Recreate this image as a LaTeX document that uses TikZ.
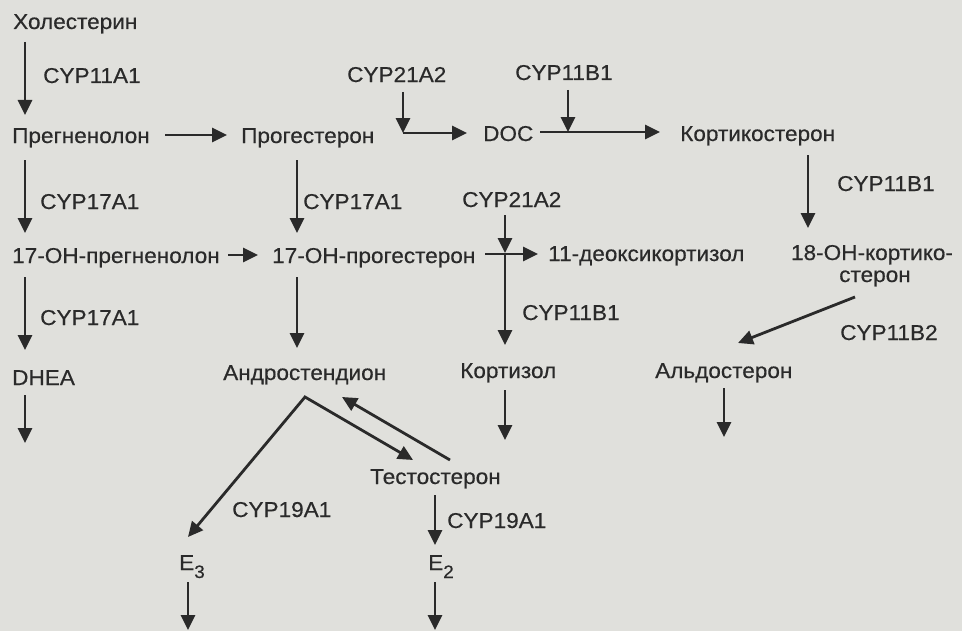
\documentclass[tikz,border=0pt]{standalone}
\usepackage{fontspec}
\setmainfont{Liberation Sans}[FakeStretch=1.05,FakeBold=0.4]
\usetikzlibrary{arrows.meta}
\definecolor{bg}{RGB}{224,224,220}
\definecolor{ink}{RGB}{42,42,42}
\newcommand{\lowsub}[1]{\raisebox{-8pt}{\fontsize{18}{18}\selectfont #1}}
\begin{document}
\begin{tikzpicture}[x=1pt,y=-1pt,
  lbl/.style={anchor=base west, inner sep=0pt, text=ink, font=\fontsize{21.5}{25}\selectfont},
  lblc/.style={anchor=base, inner sep=0pt, text=ink, font=\fontsize{21.5}{25}\selectfont},
  arr/.style={draw=ink, line width=2.8pt, -{Triangle[length=15pt,width=14pt]}},
  arrb/.style={draw=ink, line width=2.8pt, line join=miter, {Triangle[length=15pt,width=14pt]}-{Triangle[length=15pt,width=14pt]}},
  ln/.style={draw=ink, line width=2.8pt}]
\fill[bg] (0,0) rectangle (962,631);
% texts
\node[lbl] (chol) at (13,29) {Холестерин};
\node[lbl] (e1) at (43,83) {CYP11A1};
\node[lbl] (preg) at (12,143) {Прегненолон};
\node[lbl] (prog) at (241,143) {Прогестерон};
\node[lbl] (e2) at (347,82) {CYP21A2};
\node[lbl] (e3) at (515,80) {CYP11B1};
\node[lbl] (doc) at (483,141) {DOC};
\node[lbl] (cort) at (680,141) {Кортикостерон};
\node[lbl] (e4) at (40,209) {CYP17A1};
\node[lbl] (e5) at (303,209) {CYP17A1};
\node[lbl] (e6) at (462,207) {CYP21A2};
\node[lbl] (e7) at (837,191) {CYP11B1};
\node[lbl] (ohpreg) at (12,263) {17-OH-прегненолон};
\node[lbl] (ohprog) at (272,263) {17-OH-прогестерон};
\node[lbl] (deoxy) at (548,261) {11-деоксикортизол};
\node[lblc] (ohcort) at (872,260) {18-OH-кортико-};
\node[lblc] (ohcortb) at (875,282) {стерон};
\node[lbl] (e8) at (40,325) {CYP17A1};
\node[lbl] (e9) at (522,320) {CYP11B1};
\node[lbl] (e10) at (840,340) {CYP11B2};
\node[lbl] (dhea) at (12,385) {DHEA};
\node[lbl] (andr) at (223,380) {Андростендион};
\node[lbl] (kzol) at (460,378) {Кортизол};
\node[lbl] (aldo) at (655,378) {Альдостерон};
\node[lbl] (test) at (370,484) {Тестостерон};
\node[lbl] (e11) at (232,517) {CYP19A1};
\node[lbl] (e12) at (447,528) {CYP19A1};
\node[lbl] (est3) at (179,570) {E\lowsub{3}};
\node[lbl] (est2) at (428,570) {E\lowsub{2}};
% connector end points
\coordinate (c1a) at (25,42);   \coordinate (c1b) at (25,115);
\coordinate (c2a) at (25,160);  \coordinate (c2b) at (25,233);
\coordinate (c3a) at (25,277);  \coordinate (c3b) at (25,350);
\coordinate (c4a) at (25,395);  \coordinate (c4b) at (25,443);
\coordinate (h1a) at (165,135); \coordinate (h1b) at (227,135);
\coordinate (h2a) at (228,255); \coordinate (h2b) at (258,255);
\coordinate (m1a) at (297,160); \coordinate (m1b) at (297,233);
\coordinate (m2a) at (297,277); \coordinate (m2b) at (297,348);
\coordinate (v21a) at (403,92); \coordinate (v21b) at (403,133);
\coordinate (docin) at (467,133);
\coordinate (docout) at (540,132); \coordinate (cortin) at (660,132);
\coordinate (v11a) at (568,90); \coordinate (v11b) at (568,132);
\coordinate (co1) at (808,155); \coordinate (co2) at (808,228);
\coordinate (x1a) at (485,254); \coordinate (x1b) at (538,254);
\coordinate (x2a) at (505,215); \coordinate (x2b) at (505,253); \coordinate (x2c) at (505,345);
\coordinate (al1) at (855,297); \coordinate (al2) at (738,343);
\coordinate (k1) at (505,390); \coordinate (k2) at (505,440);
\coordinate (ad1) at (724,388); \coordinate (ad2) at (724,437);
\coordinate (apex) at (305,397);
\coordinate (toE3) at (188,537); \coordinate (toT) at (413,460);
\coordinate (fromT) at (450,460); \coordinate (toA) at (342,397);
\coordinate (t1) at (435,495); \coordinate (t2) at (435,545);
\coordinate (e3a) at (188,582); \coordinate (e3b) at (188,630);
\coordinate (e2a) at (435,582); \coordinate (e2b) at (435,630);
% connectors
\draw[arr] (c1a) -- (c1b);
\draw[arr] (c2a) -- (c2b);
\draw[arr] (c3a) -- (c3b);
\draw[arr] (c4a) -- (c4b);
\draw[arr] (h1a) -- (h1b);
\draw[arr] (h2a) -- (h2b);
\draw[arr] (m1a) -- (m1b);
\draw[arr] (m2a) -- (m2b);
\draw[arr] (v21b) -- (docin);
\draw[arr] (v21a) -- (v21b);
\draw[arr] (docout) -- (cortin);
\draw[arr] (v11a) -- (v11b);
\draw[arr] (co1) -- (co2);
\draw[arr] (x1a) -- (x1b);
\draw[arr] (x2b) -- (x2c);
\draw[arr] (x2a) -- (x2b);
\draw[arr] (al1) -- (al2);
\draw[arr] (k1) -- (k2);
\draw[arr] (ad1) -- (ad2);
\draw[arrb] (toT) -- (apex) -- (toE3);
\draw[arr] (fromT) -- (toA);
\draw[arr] (t1) -- (t2);
\draw[arr] (e3a) -- (e3b);
\draw[arr] (e2a) -- (e2b);
\end{tikzpicture}
\end{document}
